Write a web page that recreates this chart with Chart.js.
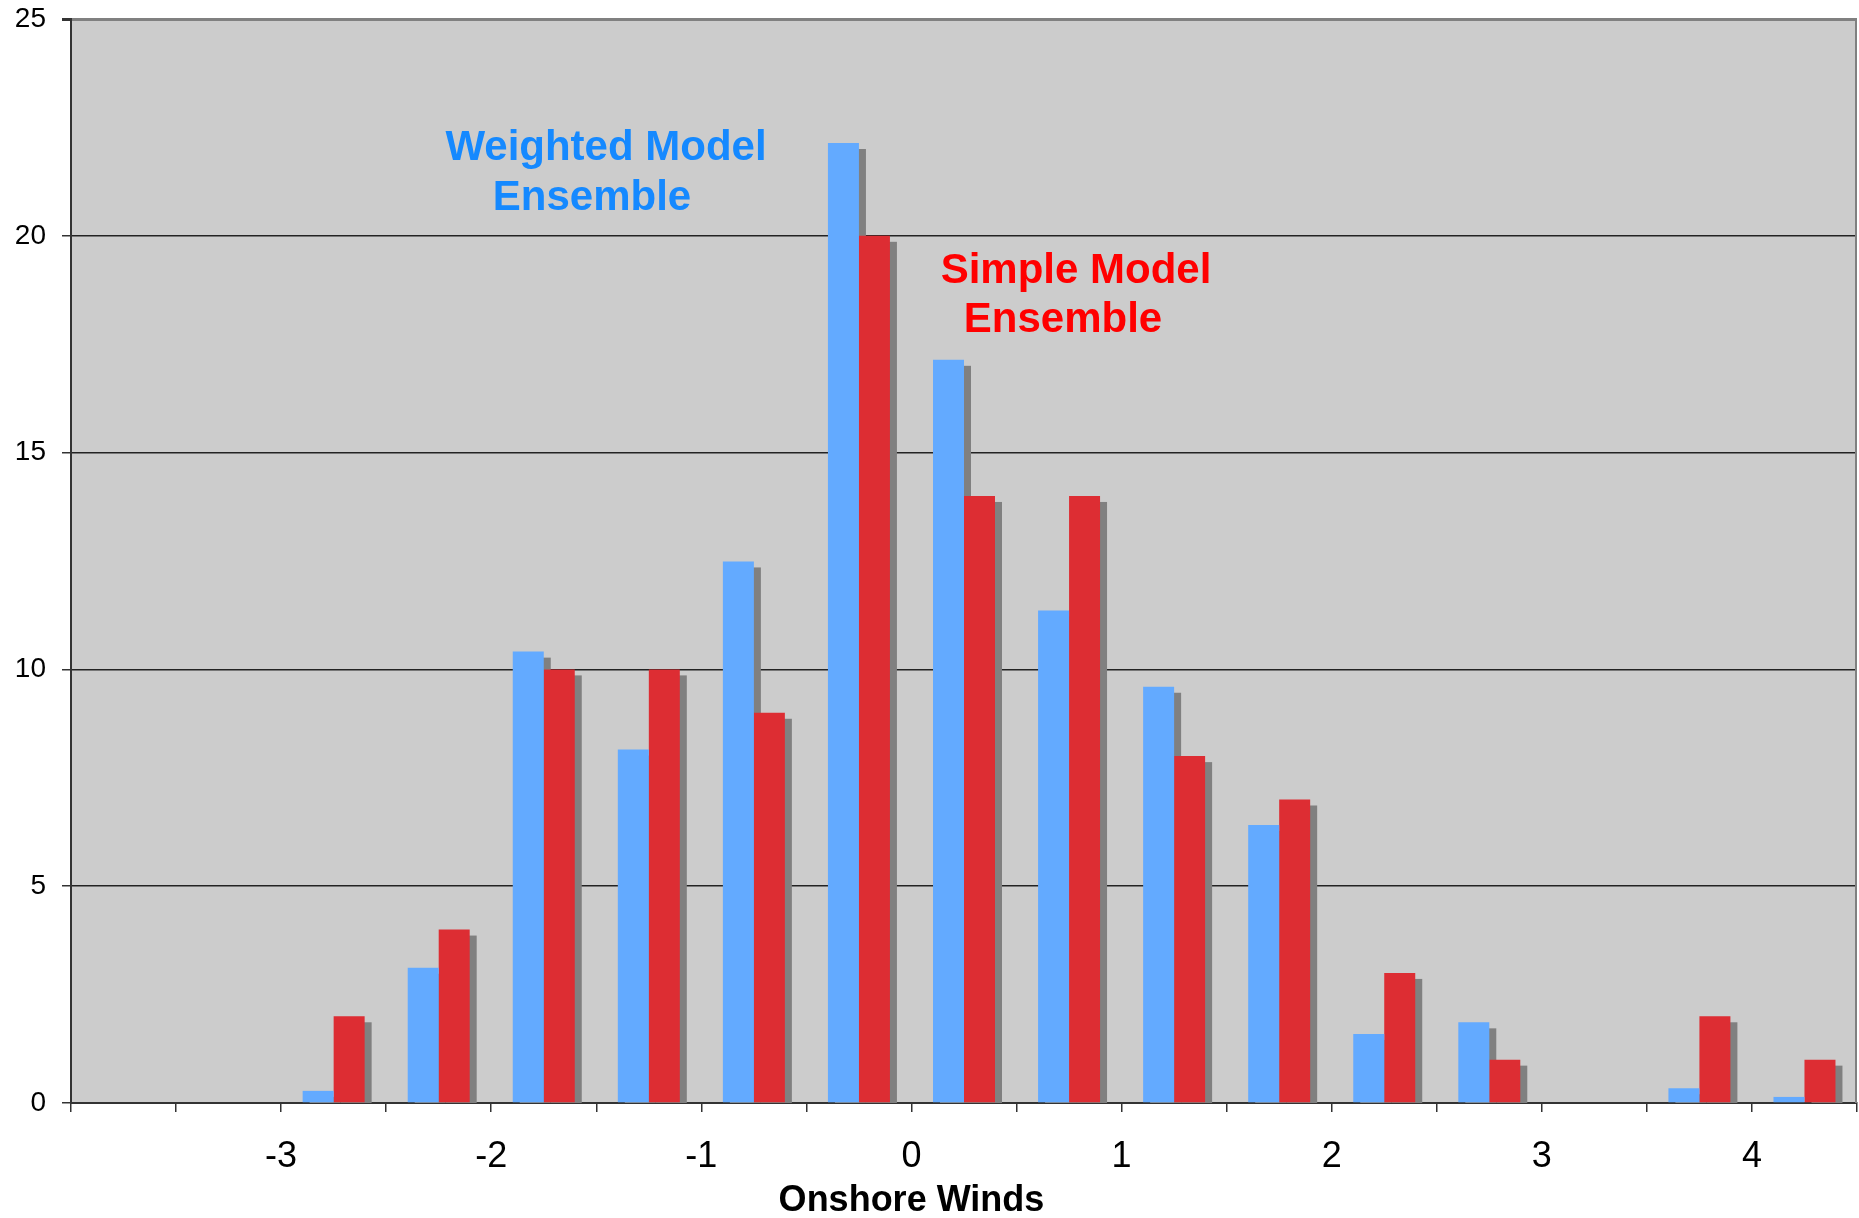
<!DOCTYPE html>
<html>
<head>
<meta charset="utf-8">
<title>Onshore Winds</title>
<script src="https://cdn.jsdelivr.net/npm/chart.js@4.4.0/dist/chart.umd.min.js"></script>
<style>
  html, body { margin: 0; padding: 0; background: #fff; }
  #wrap { width: 1859px; height: 1218px; }
</style>
</head>
<body>
<div id="wrap"><canvas id="windChart"></canvas></div>
<script>
// half-unit bins from -4 to 4.5
const binCenters = ['-3.75', '-3.25', '-2.75', '-2.25', '-1.75', '-1.25', '-0.75', '-0.25',
                    '0.25', '0.75', '1.25', '1.75', '2.25', '2.75', '3.25', '3.75', '4.25'];
const weighted = [0, 0, 0.28, 3.12, 10.41, 8.15, 12.49, 22.14, 17.14, 11.36, 9.6, 6.41, 1.59, 1.86, 0, 0.34, 0.14];
const simple = [0, 0, 2, 4, 10, 10, 9, 20, 14, 14, 8, 7, 3, 1, 0, 2, 1];
const windTicks = [-3, -2, -1, 0, 1, 2, 3, 4];
const windMin = -4;
const windMax = 4.5;

const FONT = '"Liberation Sans", Arial, sans-serif';

// grey plot area
const plotBackground = {
    id: 'plotBackground',
    beforeDraw(chart) {
        const { ctx, chartArea: a } = chart;
        ctx.save();
        ctx.fillStyle = '#cccccc';
        ctx.fillRect(a.left, a.top, a.right - a.left, a.bottom - a.top);
        ctx.restore();
    }
};

// hard drop shadow behind every bar, drawn before the bars themselves
const barShadows = {
    id: 'barShadows',
    beforeDatasetsDraw(chart) {
        const { ctx, chartArea: a } = chart;
        ctx.save();
        ctx.beginPath();
        ctx.rect(a.left, a.top, a.right - a.left, a.bottom - a.top);
        ctx.clip();
        ctx.fillStyle = '#808080';
        chart.data.datasets.forEach((ds, i) => {
            chart.getDatasetMeta(i).data.forEach(bar => {
                const { x, y, base, width } = bar.getProps(['x', 'y', 'base', 'width'], true);
                if (base - y <= 0) return;
                ctx.fillRect(x - width / 2 + 7, y + 6, width, base - y);
            });
        });
        ctx.restore();
    }
};

// frame, series captions and axis title
const chartText = {
    id: 'chartText',
    afterDraw(chart) {
        const { ctx, chartArea: a } = chart;
        const xs = chart.scales.x2;
        ctx.save();
        ctx.strokeStyle = '#808080';
        ctx.lineWidth = 2;
        ctx.beginPath();
        ctx.moveTo(a.right - 1, a.top);
        ctx.lineTo(a.right - 1, a.bottom);
        ctx.stroke();

        ctx.textAlign = 'center';
        ctx.textBaseline = 'alphabetic';
        ctx.font = 'bold 42px ' + FONT;
        ctx.fillStyle = '#1589ff';
        ctx.fillText('Weighted Model', 606, 160);
        ctx.fillText('Ensemble', 592, 210);
        ctx.fillStyle = '#ff0000';
        ctx.fillText('Simple Model', 1076, 283);
        ctx.fillText('Ensemble', 1063, 332);

        ctx.fillStyle = '#000';
        ctx.font = 'bold 36px ' + FONT;
        ctx.fillText('Onshore Winds', xs.getPixelForValue(0), 1211);
        ctx.restore();
    }
};

new Chart(document.getElementById('windChart'), {
    type: 'bar',
    data: {
        labels: binCenters,
        datasets: [{
            label: 'Weighted Model Ensemble',
            data: weighted,
            backgroundColor: '#63aaff',
            borderWidth: 0
        }, {
            label: 'Simple Model Ensemble',
            data: simple,
            backgroundColor: '#dd2d33',
            borderWidth: 0
        }]
    },
    options: {
        responsive: true,
        maintainAspectRatio: false,
        animation: false,
        layout: { padding: { top: 19, right: 2, left: 0, bottom: 0 } },
        datasets: { bar: { barPercentage: 1, categoryPercentage: 0.59 } },
        scales: {
            x: { display: false },
            x2: {
                type: 'linear',
                position: 'bottom',
                offset: false,
                min: windMin,
                max: windMax,
                ticks: {
                    stepSize: 0.5,
                    autoSkip: false,
                    maxRotation: 0,
                    padding: 23,
                    color: '#000',
                    font: { family: FONT, size: 36 },
                    callback: v => {
                        const r = Math.round(v);
                        return Math.abs(v - r) < 1e-6 && windTicks.includes(r) ? String(r) : '';
                    }
                },
                grid: { offset: false, drawOnChartArea: false, tickLength: 9, tickColor: '#333', lineWidth: 1.5 },
                border: { color: '#333', width: 2 },
                afterFit: s => {
                    s.height = 115;
                    s.paddingLeft = 0;
                    s.paddingRight = 0;
                }
            },
            y: {
                min: 0,
                max: 25,
                ticks: {
                    stepSize: 5,
                    padding: 16,
                    color: '#000',
                    font: { family: FONT, size: 28 }
                },
                grid: {
                    color: c => c.tick.value === 25 ? '#808080' : '#222',
                    lineWidth: c => c.tick.value === 25 ? 3 : 1.5,
                    tickLength: 9,
                    tickColor: '#333'
                },
                border: { color: '#333', width: 2 },
                afterFit: s => {
                    s.width = 71;
                    s.paddingTop = 0;
                    s.paddingBottom = 0;
                }
            }
        },
        plugins: {
            legend: { display: false },
            tooltip: { enabled: false }
        }
    },
    plugins: [plotBackground, barShadows, chartText]
});
</script>
</body>
</html>
